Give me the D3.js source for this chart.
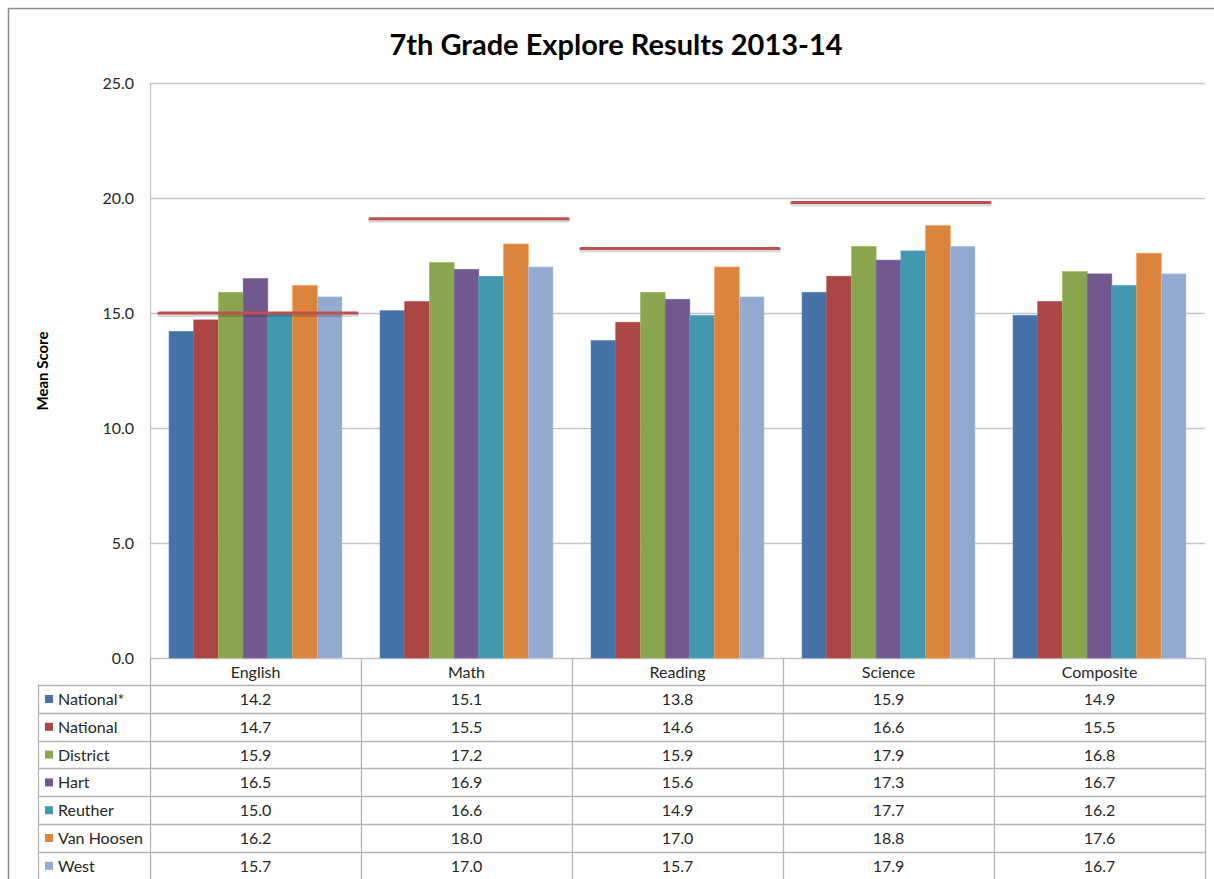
<!DOCTYPE html>
<html>
<head>
<meta charset="utf-8">
<script src="https://cdn.jsdelivr.net/npm/d3@7"></script>
<style>
  body { margin: 0; background: #fff; }
  svg { display: block; font-family: Lato, "Open Sans", sans-serif; }
</style>
</head>
<body>
<script>
(function(){

  //chart data
  var categories = ["English", "Math", "Reading", "Science", "Composite"];
  var seriesNames = ["National*", "National", "District", "Hart", "Reuther", "Van Hoosen", "West"];
  var nationalStar = [14.2, 15.1, 13.8, 15.9, 14.9];
  var national = [14.7, 15.5, 14.6, 16.6, 15.5];
  var district = [15.9, 17.2, 15.9, 17.9, 16.8];
  var hart = [16.5, 16.9, 15.6, 17.3, 16.7];
  var reuther = [15.0, 16.6, 14.9, 17.7, 16.2];
  var vanHoosen = [16.2, 18.0, 17.0, 18.8, 17.6];
  var west = [15.7, 17.0, 15.7, 17.9, 16.7];
  var benchmarks = [15.0, 19.1, 17.8, 19.8, null]; //red target lines
  var yTicks = [0, 5, 10, 15, 20, 25];
  var colors = ["#4572A7", "#AA4643", "#89A54E", "#71588F", "#4198AF", "#DB843D", "#93A9CF"];

  var seriesValues = [nationalStar, national, district, hart, reuther, vanHoosen, west];

  window.onload = drawChart();

  function drawChart(){
    var width = 1214,
        height = 879,
        plotLeft = 150,
        plotRight = 1205,
        plotTop = 83,
        plotBottom = 658,
        headerHeight = 27,
        rowHeight = 27.8,
        legendLeft = 38,
        fontSize = "16px";

    var svg = d3.select("body")
      .append("svg")
      .attr("width", width)
      .attr("height", height);

    //outer chart frame
    svg.append("rect")
      .attr("x", 8.5)
      .attr("y", 8.5)
      .attr("width", width + 20)
      .attr("height", height + 20)
      .attr("fill", "none")
      .attr("stroke", "#8a8a8a")
      .attr("stroke-width", 1.5);

    //title
    svg.append("text")
      .attr("x", 616)
      .attr("y", 55)
      .attr("text-anchor", "middle")
      .style("font-size", "29px")
      .style("font-weight", "bold")
      .attr("fill", "#000")
      .text("7th Grade Explore Results 2013-14");

    var xScale = d3.scaleBand() //category bands
      .domain(categories)
      .range([plotLeft, plotRight]);

    var innerScale = d3.scaleBand() //series within a category
      .domain(seriesNames)
      .range([0, xScale.bandwidth()])
      .paddingOuter(0.77);

    var yScale = d3.scaleLinear()
      .domain([0, 25])
      .range([plotBottom, plotTop]);

    //gridlines
    svg.append("g")
      .selectAll("line")
      .data(yTicks)
      .enter()
      .append("line")
      .attr("x1", plotLeft)
      .attr("x2", plotRight)
      .attr("y1", function(d){ return Math.round(yScale(d)) + 0.5; })
      .attr("y2", function(d){ return Math.round(yScale(d)) + 0.5; })
      .attr("stroke", "#c4c4c4")
      .attr("stroke-width", 1.3);

    //y axis line
    svg.append("line")
      .attr("x1", plotLeft + 0.5)
      .attr("x2", plotLeft + 0.5)
      .attr("y1", plotTop)
      .attr("y2", plotBottom)
      .attr("stroke", "#c4c4c4")
      .attr("stroke-width", 1.3);

    //y axis labels
    var yAxis = d3.axisLeft(yScale)
      .tickValues(yTicks)
      .tickSize(0)
      .tickPadding(16)
      .tickFormat(d3.format(".1f"));

    var axis = svg.append("g")
      .attr("transform", "translate(" + plotLeft + ",0)")
      .call(yAxis);
    axis.select(".domain").remove();
    axis.selectAll("text")
      .style("font-size", fontSize)
      .style("font-family", "Lato, sans-serif")
      .attr("fill", "#262626");

    svg.append("text")
      .attr("transform", "translate(48,371) rotate(-90)")
      .attr("text-anchor", "middle")
      .style("font-size", "15px")
      .style("font-weight", "bold")
      .text("Mean Score");

    //bars
    var groups = svg.selectAll(".group")
      .data(categories)
      .enter()
      .append("g")
      .attr("class", "group")
      .attr("transform", function(d){ return "translate(" + xScale(d) + ",0)"; });

    groups.selectAll("rect")
      .data(function(d, ci){
        return seriesNames.map(function(s, si){
          return { series: s, value: seriesValues[si][ci], color: colors[si] };
        });
      })
      .enter()
      .append("rect")
      .attr("x", function(d){ return innerScale(d.series); })
      .attr("width", innerScale.bandwidth())
      .attr("y", function(d){ return yScale(d.value); })
      .attr("height", function(d){ return plotBottom - yScale(d.value); })
      .attr("fill", function(d){ return d.color; })
      .attr("stroke", function(d){ return d3.color(d.color).brighter(0.4); })
      .attr("stroke-width", 0.6);

    //benchmark lines, a soft grey shadow under each red line
    var benchData = benchmarks
      .map(function(v, i){ return { cat: categories[i], value: v }; })
      .filter(function(d){ return d.value != null; });

    var bench = svg.append("g");
    [{ dy: 2, color: "#000", width: 4, opacity: 0.15 },
     { dy: 0, color: "#C0504D", width: 3, opacity: 1 }].forEach(function(style){
      bench.selectAll(null)
        .data(benchData)
        .enter()
        .append("line")
        .attr("x1", function(d){ return xScale(d.cat) + 9; })
        .attr("x2", function(d){ return xScale(d.cat) + xScale.bandwidth() - 4; })
        .attr("y1", function(d){ return yScale(d.value) + style.dy; })
        .attr("y2", function(d){ return yScale(d.value) + style.dy; })
        .attr("stroke", style.color)
        .attr("stroke-opacity", style.opacity)
        .attr("stroke-width", style.width)
        .attr("stroke-linecap", "round");
    });

    //data table
    var tableBottom = plotBottom + headerHeight + rowHeight * seriesNames.length;
    var table = svg.append("g");
    var lineColor = "#b4b4b4";

    //header row category labels
    table.selectAll(".catLabel")
      .data(categories)
      .enter()
      .append("text")
      .attr("x", function(d){ return xScale(d) + xScale.bandwidth() / 2; })
      .attr("y", plotBottom + 19.5)
      .attr("text-anchor", "middle")
      .style("font-size", fontSize)
      .attr("fill", "#262626")
      .text(function(d){ return d; });

    //vertical lines
    var vLines = [plotLeft].concat(categories.map(function(d){ return xScale(d) + xScale.bandwidth(); }));
    table.selectAll(".vline")
      .data(vLines)
      .enter()
      .append("line")
      .attr("x1", function(d){ return Math.round(d) + 0.5; })
      .attr("x2", function(d){ return Math.round(d) + 0.5; })
      .attr("y1", plotBottom)
      .attr("y2", tableBottom)
      .attr("stroke", lineColor)
      .attr("stroke-width", 1.3);

    table.append("line")
      .attr("x1", legendLeft + 0.5)
      .attr("x2", legendLeft + 0.5)
      .attr("y1", plotBottom + headerHeight)
      .attr("y2", tableBottom)
      .attr("stroke", lineColor)
      .attr("stroke-width", 1.3);

    //horizontal row lines
    var hLines = d3.range(seriesNames.length + 1).map(function(i){ return plotBottom + headerHeight + i * rowHeight; });
    table.selectAll(".hline")
      .data(hLines)
      .enter()
      .append("line")
      .attr("x1", legendLeft)
      .attr("x2", plotRight)
      .attr("y1", function(d){ return Math.round(d) + 0.5; })
      .attr("y2", function(d){ return Math.round(d) + 0.5; })
      .attr("stroke", lineColor)
      .attr("stroke-width", 1.3);

    //rows
    var rows = table.selectAll(".row")
      .data(seriesNames)
      .enter()
      .append("g")
      .attr("transform", function(d, i){
        return "translate(0," + (plotBottom + headerHeight + i * rowHeight) + ")";
      });

    rows.append("rect")
      .attr("x", legendLeft + 7)
      .attr("y", 10)
      .attr("width", 8)
      .attr("height", 8)
      .attr("fill", function(d, i){ return colors[i]; });

    rows.append("text")
      .attr("x", legendLeft + 20)
      .attr("y", 20)
      .style("font-size", fontSize)
      .attr("fill", "#262626")
      .text(function(d){ return d; });

    rows.selectAll(".val")
      .data(function(d, i){ return seriesValues[i].map(function(v, ci){ return { cat: categories[ci], value: v }; }); })
      .enter()
      .append("text")
      .attr("x", function(d){ return xScale(d.cat) + xScale.bandwidth() / 2; })
      .attr("y", 20)
      .attr("text-anchor", "middle")
      .style("font-size", fontSize)
      .attr("fill", "#262626")
      .text(function(d){ return d3.format(".1f")(d.value); });
  };
})();
</script>
</body>
</html>
